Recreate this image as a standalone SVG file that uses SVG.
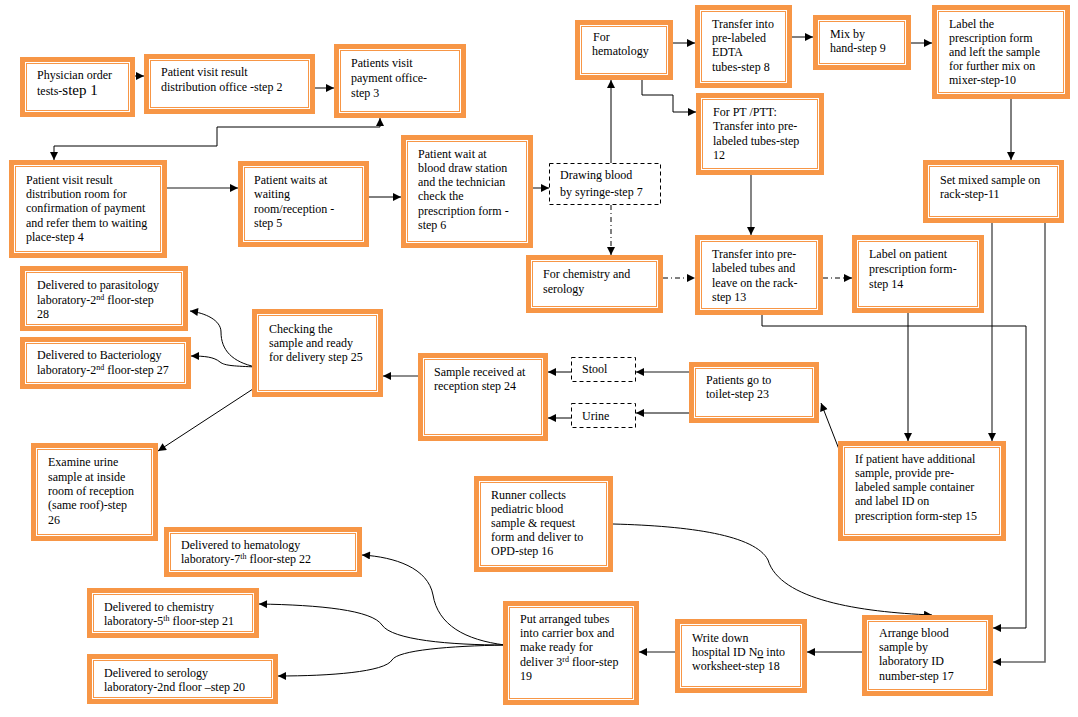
<svg xmlns="http://www.w3.org/2000/svg" width="1078" height="717" viewBox="0 0 1078 717">
<style>
text{font-family:"Liberation Serif","Times New Roman",serif;font-size:12px;fill:#000}
.o{fill:#fff;stroke:#F79646;stroke-width:5}
.i{fill:none;stroke:#F79646;stroke-width:1}
.d{fill:#fff;stroke:#000;stroke-width:1;stroke-dasharray:4,3}
.c{fill:none;stroke:#000;stroke-width:1;marker-end:url(#ah)}
.g{stroke:#666;stroke-width:1.6}
.dd{stroke-dasharray:5,3,1,3}
.sup{font-size:8px}
</style>
<defs>
<marker id="ah" viewBox="0 0 10 10" refX="10" refY="5" markerWidth="9" markerHeight="8" markerUnits="userSpaceOnUse" orient="auto-start-reverse"><path d="M0,0 L10,5 L0,10 z" fill="#000"/></marker>
</defs>
<rect width="1078" height="717" fill="#fff"/>
<g id="connectors">
<path class="c" d="M135,76 H144"/>
<path class="c" d="M315,88 H334"/>
<path class="c" d="M54,160 V146 H217 V127 H380 V118" marker-start="url(#ah)"/>
<path class="c g" d="M167,188 H238"/>
<path class="c" d="M369,197 H401"/>
<path class="c g" d="M533,188 H549"/>
<path class="c" d="M611,163 V80"/>
<path class="c" d="M673,43 H695"/>
<path class="c" d="M642,80 V95 H673 V112 H696"/>
<path class="c" d="M792,37 H813"/>
<path class="c" d="M911,43 H932"/>
<path class="c" d="M1011,99 V160"/>
<path class="c dd" d="M611,205 V255"/>
<path class="c g" d="M751,175 V235"/>
<path class="c dd" d="M663,278 H695"/>
<path class="c dd" d="M823,278 H852"/>
<path class="c" d="M908,313 V441"/>
<path class="c g" d="M992,223 V441"/>
<path class="c" d="M762,315 V326 H1026 V628 H993"/>
<path class="c g" d="M1045,223 V662 H993"/>
<path class="c" d="M842,457 L821,403"/>
<path class="c g" d="M689,372 H636"/>
<path class="c" d="M689,413 H636"/>
<path class="c" d="M571,372 H548"/>
<path class="c" d="M571,418 H548"/>
<path class="c g" d="M418,376 H383"/>
<path class="c" d="M256,367 C232,362 221,350 221,332 C221,320 205,313 190,311"/>
<path class="c" d="M256,367 C235,366 225,366 220,362 C214,357 205,356 191,356"/>
<path class="c" d="M256,387 L158,451"/>
<path class="c" d="M613,524 C690,526 755,535 768,560 C780,600 860,612 932,615"/>
<path class="c" d="M862,652 H807"/>
<path class="c g" d="M675,652 H639"/>
<path class="c" d="M505,645 C465,640 438,625 433,595 C428,568 395,557 362,555"/>
<path class="c" d="M505,645 C450,645 392,640 382,625 C372,610 320,605 259,604"/>
<path class="c" d="M505,645 C450,646 398,650 392,660 C385,672 330,676 278,676"/>
</g>
<g id="n1"><rect class="o" x="22.5" y="59.5" width="110" height="55"/><rect class="i" x="26.5" y="63.5" width="102" height="47"/>
<text x="37" y="79">Physician order</text><text x="37" y="95">tests-<tspan font-size="15">step 1</tspan></text></g>
<g id="n2"><rect class="o" x="146.5" y="56.5" width="166" height="55"/><rect class="i" x="150.5" y="60.5" width="158" height="47"/>
<text x="161" y="76">Patient visit result</text><text x="161" y="91">distribution office -step 2</text></g>
<g id="n3"><rect class="o" x="336.5" y="46.5" width="127" height="69"/><rect class="i" x="340.5" y="50.5" width="119" height="61"/>
<text x="351" y="67">Patients visit</text><text x="351" y="82">payment office-</text><text x="351" y="97">step 3</text></g>
<g id="nhem"><rect class="o" x="577.5" y="22.5" width="93" height="55"/><rect class="i" x="581.5" y="26.5" width="85" height="47"/>
<text x="593" y="41">For</text><text x="592" y="55">hematology</text></g>
<g id="n8"><rect class="o" x="697.5" y="7.5" width="92" height="78"/><rect class="i" x="701.5" y="11.5" width="84" height="70"/>
<text x="712" y="28">Transfer into</text><text x="712" y="42">pre-labeled</text><text x="712" y="56">EDTA</text><text x="712" y="71">tubes-step 8</text></g>
<g id="n9"><rect class="o" x="815.5" y="17.5" width="93" height="50"/><rect class="i" x="819.5" y="21.5" width="85" height="42"/>
<text x="830" y="38">Mix by</text><text x="830" y="52">hand-step 9</text></g>
<g id="n10"><rect class="o" x="934.5" y="7.5" width="133" height="89"/><rect class="i" x="938.5" y="11.5" width="125" height="81"/>
<text x="949" y="28">Label the</text><text x="949" y="42">prescription form</text><text x="949" y="56">and left the sample</text><text x="949" y="70">for further mix on</text><text x="949" y="84">mixer-step-10</text></g>
<g id="n12"><rect class="o" x="698.5" y="95.5" width="123" height="77"/><rect class="i" x="702.5" y="99.5" width="115" height="69"/>
<text x="713" y="116">For PT /PTT:</text><text x="713" y="130">Transfer into pre-</text><text x="713" y="145">labeled tubes-step</text><text x="713" y="159">12</text></g>
<g id="n11"><rect class="o" x="925.5" y="162.5" width="136" height="58"/><rect class="i" x="929.5" y="166.5" width="128" height="50"/>
<text x="940" y="184">Set mixed sample on</text><text x="940" y="198">rack-step-11</text></g>
<g id="n4"><rect class="o" x="11.5" y="162.5" width="153" height="93"/><rect class="i" x="15.5" y="166.5" width="145" height="85"/>
<text x="26" y="184">Patient visit result</text><text x="26" y="198">distribution room for</text><text x="26" y="212">confirmation of payment</text><text x="26" y="227">and refer them to waiting</text><text x="26" y="241">place-step 4</text></g>
<g id="n5"><rect class="o" x="240.5" y="163.5" width="126" height="81"/><rect class="i" x="244.5" y="167.5" width="118" height="73"/>
<text x="254" y="184">Patient waits at</text><text x="254" y="198">waiting</text><text x="254" y="213">room/reception -</text><text x="254" y="227">step 5</text></g>
<g id="n6"><rect class="o" x="403.5" y="137.5" width="127" height="108"/><rect class="i" x="407.5" y="141.5" width="119" height="100"/>
<text x="418" y="158">Patient wait at</text><text x="418" y="172">blood draw station</text><text x="418" y="186">and the technician</text><text x="418" y="200">check the</text><text x="418" y="215">prescription form -</text><text x="418" y="229">step 6</text></g>
<g id="n7"><rect class="d" x="549.5" y="163.5" width="111" height="41"/>
<text x="560" y="179">Drawing blood</text><text x="560" y="196">by syringe-step 7</text></g>
<g id="nchem"><rect class="o" x="528.5" y="257.5" width="132" height="53"/><rect class="i" x="532.5" y="261.5" width="124" height="45"/>
<text x="543" y="278">For chemistry and</text><text x="543" y="293">serology</text></g>
<g id="n13"><rect class="o" x="697.5" y="237.5" width="123" height="75"/><rect class="i" x="701.5" y="241.5" width="115" height="67"/>
<text x="712" y="258">Transfer into pre-</text><text x="712" y="272">labeled tubes and</text><text x="712" y="287">leave on the rack-</text><text x="712" y="301">step 13</text></g>
<g id="n14"><rect class="o" x="854.5" y="237.5" width="127" height="73"/><rect class="i" x="858.5" y="241.5" width="119" height="65"/>
<text x="869" y="258">Label on patient</text><text x="869" y="273">prescription form-</text><text x="869" y="288">step 14</text></g>
<g id="n15"><rect class="o" x="840.5" y="443.5" width="163" height="95"/><rect class="i" x="844.5" y="447.5" width="155" height="87"/>
<text x="855" y="463">If patient have additional</text><text x="855" y="477">sample, provide pre-</text><text x="855" y="491">labeled sample container</text><text x="855" y="505">and label ID on</text><text x="855" y="520">prescription form-step 15</text></g>
<g id="n23"><rect class="o" x="691.5" y="364.5" width="125" height="56"/><rect class="i" x="695.5" y="368.5" width="117" height="48"/>
<text x="706" y="384">Patients go to</text><text x="706" y="398">toilet-step 23</text></g>
<g id="nstool"><rect class="d" x="571.5" y="357.5" width="64" height="24"/><text x="582" y="373">Stool</text></g>
<g id="nurine"><rect class="d" x="571.5" y="403.5" width="64" height="24"/><text x="582" y="420">Urine</text></g>
<g id="n24"><rect class="o" x="420.5" y="355.5" width="125" height="83"/><rect class="i" x="424.5" y="359.5" width="117" height="75"/>
<text x="434" y="376">Sample received at</text><text x="434" y="390">reception step 24</text></g>
<g id="n25"><rect class="o" x="254.5" y="311.5" width="126" height="83"/><rect class="i" x="258.5" y="315.5" width="118" height="75"/>
<text x="269" y="333">Checking the</text><text x="269" y="347">sample and ready</text><text x="269" y="361">for delivery step 25</text></g>
<g id="n28"><rect class="o" x="22.5" y="268.5" width="163" height="60"/><rect class="i" x="26.5" y="272.5" width="155" height="52"/>
<text x="37" y="289">Delivered to parasitology</text><text x="37" y="304">laboratory-2<tspan class="sup" dy="-4">nd</tspan><tspan dy="4"> floor-step</tspan></text><text x="37" y="318">28</text></g>
<g id="n27"><rect class="o" x="22.5" y="339.5" width="166" height="47"/><rect class="i" x="26.5" y="343.5" width="158" height="39"/>
<text x="37" y="359">Delivered to Bacteriology</text><text x="37" y="374">laboratory-2<tspan class="sup" dy="-4">nd</tspan><tspan dy="4"> floor-step 27</tspan></text></g>
<g id="n26"><rect class="o" x="33.5" y="445.5" width="122" height="93"/><rect class="i" x="37.5" y="449.5" width="114" height="85"/>
<text x="48" y="466">Examine urine</text><text x="48" y="481">sample at inside</text><text x="48" y="495">room of reception</text><text x="48" y="509">(same roof)-step</text><text x="48" y="524">26</text></g>
<g id="n16"><rect class="o" x="476.5" y="478.5" width="134" height="91"/><rect class="i" x="480.5" y="482.5" width="126" height="83"/>
<text x="491" y="499">Runner collects</text><text x="491" y="513">pediatric blood</text><text x="491" y="527">sample &amp; request</text><text x="491" y="541">form and deliver to</text><text x="491" y="555">OPD-step 16</text></g>
<g id="n17"><rect class="o" x="864.5" y="617.5" width="126" height="76"/><rect class="i" x="868.5" y="621.5" width="118" height="68"/>
<text x="879" y="637">Arrange blood</text><text x="879" y="651">sample by</text><text x="879" y="665">laboratory ID</text><text x="879" y="680">number-step 17</text></g>
<g id="n18"><rect class="o" x="677.5" y="621.5" width="127" height="69"/><rect class="i" x="681.5" y="625.5" width="119" height="61"/>
<text x="692" y="642">Write down</text><text x="692" y="656">hospital ID N<tspan text-decoration="underline">o</tspan> into</text><text x="692" y="670">worksheet-step 18</text></g>
<g id="n19"><rect class="o" x="505.5" y="603.5" width="131" height="99"/><rect class="i" x="509.5" y="607.5" width="123" height="91"/>
<text x="520" y="623">Put arranged tubes</text><text x="520" y="637">into carrier box and</text><text x="520" y="651">make ready for</text><text x="520" y="666">deliver 3<tspan class="sup" dy="-4">rd</tspan><tspan dy="4"> floor-step</tspan></text><text x="520" y="680">19</text></g>
<g id="n22"><rect class="o" x="166.5" y="529.5" width="193" height="45"/><rect class="i" x="170.5" y="533.5" width="185" height="37"/>
<text x="181" y="549">Delivered to hematology</text><text x="181" y="563">laboratory-7<tspan class="sup" dy="-4">th</tspan><tspan dy="4"> floor-step 22</tspan></text></g>
<g id="n21"><rect class="o" x="89.5" y="590.5" width="167" height="45"/><rect class="i" x="93.5" y="594.5" width="159" height="37"/>
<text x="104" y="611">Delivered to chemistry</text><text x="104" y="625">laboratory-5<tspan class="sup" dy="-4">th</tspan><tspan dy="4"> floor-step 21</tspan></text></g>
<g id="n20"><rect class="o" x="89.5" y="656.5" width="186" height="45"/><rect class="i" x="93.5" y="660.5" width="178" height="37"/>
<text x="104" y="677">Delivered to serology</text><text x="104" y="691">laboratory-2nd floor –step 20</text></g>
</svg>
